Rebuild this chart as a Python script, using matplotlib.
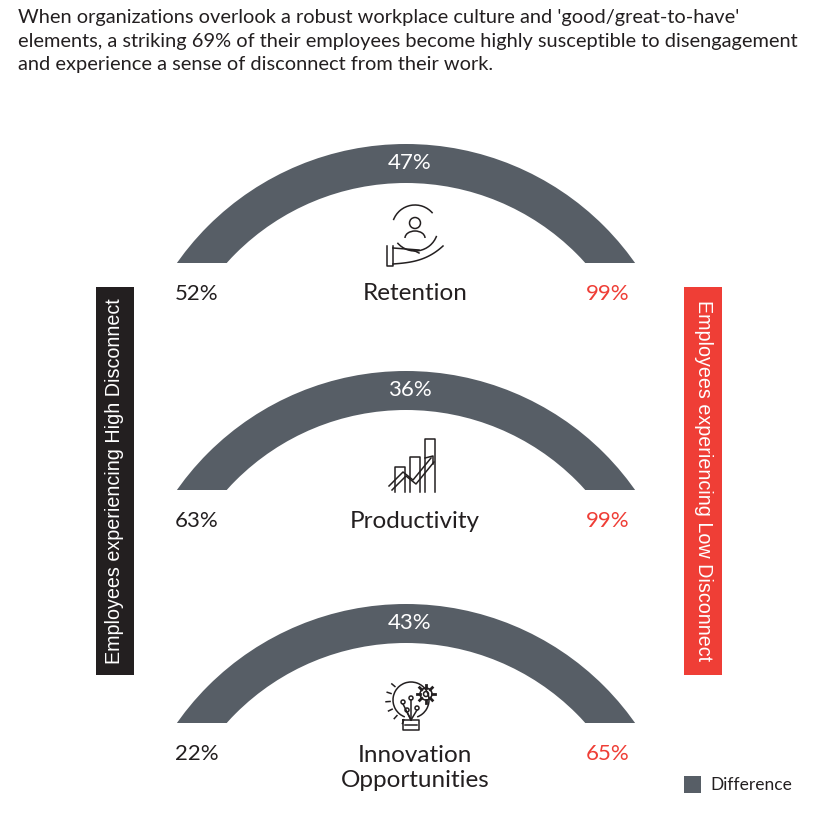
import numpy as np
import matplotlib
matplotlib.use("Agg")
import matplotlib.pyplot as plt
from matplotlib.patches import Wedge, Rectangle, Circle, Arc

title_lines = [
    "When organizations overlook a robust workplace culture and 'good/great-to-have'",
    "elements, a striking 69% of their employees become highly susceptible to disengagement",
    "and experience a sense of disconnect from their work.",
]
categories = ["Retention", "Productivity", "Innovation\nOpportunities"]
high_disconnect = [52, 63, 22]
low_disconnect = [99, 99, 65]
difference = [47, 36, 43]
left_label = "Employees experiencing High Disconnect"
right_label = "Employees experiencing Low Disconnect"
legend_label = "Difference"

GREY = "#575e66"
RED = "#ef3e36"
DARK = "#231f20"
FONT = "Lato"

fig = plt.figure(figsize=(8.26, 8.26), dpi=100)
ax = fig.add_axes([0, 0, 1, 1])
ax.set_xlim(0, 826)
ax.set_ylim(826, 0)
ax.axis("off")

for i, line in enumerate(title_lines):
    ax.text(18, 18 + 23.3 * i, line, fontsize=14.4, family=FONT, color=DARK,
            va="center", ha="left")

baselines = [263, 490, 723]
cx = 406
R, width = 280, 39
drop = 161


def icon_retention(x, y):
    kw = dict(color=DARK, lw=1.1)
    ax.add_patch(Circle((x, y - 13), 5.5, fill=False, **kw))
    ax.add_patch(Arc((x, y + 2), 20, 14, theta1=180, theta2=360, **kw))
    ax.add_patch(Arc((x, y - 8), 46, 46, theta1=200, theta2=320, **kw))
    ax.add_patch(Arc((x, y - 8), 46, 46, theta1=20, theta2=140, **kw))
    ax.plot([x - 28, x - 28, x - 22, x - 22], [y + 10, y + 30, y + 30, y + 10], **kw)
    t = np.linspace(0, 1, 30)
    ax.plot(x - 22 + 50 * t, y + 28 - 4 * t - 14 * t ** 3, **kw)
    ax.plot(x - 22 + 26 * t, y + 12 + 2 * t, **kw)
    ax.plot([x - 2, x + 4], [y + 14, y + 17], **kw)


def icon_productivity(x, y):
    kw = dict(color=DARK, lw=1.1)
    for dx, h in [(-20, 25), (-5, 35), (10, 53)]:
        ax.plot([x + dx, x + dx, x + dx + 10, x + dx + 10],
                [y + 24, y + 24 - h, y + 24 - h, y + 24], **kw)
    px = [x - 26, x - 12, x - 2, x + 16]
    py = [y + 18, y + 4, y + 12, y - 10]
    ax.plot(px, py, **kw)
    ax.plot([p + 3 for p in px], [p + 4 for p in py], **kw)
    ax.plot([x + 10, x + 18, x + 18], [y - 10, y - 12, y - 4], **kw)


def icon_innovation(x, y):
    kw = dict(color=DARK, lw=1.1)
    ax.add_patch(Arc((x - 4, y - 6), 36, 36, theta1=110, theta2=430, **kw))
    ax.plot([x - 12, x + 4, x + 4, x - 12, x - 12], [y + 14, y + 14, y + 24, y + 24, y + 14], **kw)
    ax.plot([x - 10, x + 2], [y + 19, y + 19], **kw)
    ax.add_patch(Circle((x + 11, y - 12), 6, fill=False, **kw))
    ax.add_patch(Circle((x + 11, y - 12), 2.5, fill=False, **kw))
    for a in np.linspace(0, 2 * np.pi, 8, endpoint=False):
        ax.plot([x + 11 + 6 * np.cos(a), x + 11 + 9 * np.cos(a)],
                [y - 12 + 6 * np.sin(a), y - 12 + 9 * np.sin(a)], color=DARK, lw=2)
    for a in np.linspace(140, 250, 6):
        r = np.radians(a)
        ax.plot([x - 4 + 21 * np.cos(r), x - 4 + 25 * np.cos(r)],
                [y - 6 - 21 * np.sin(r), y - 6 - 25 * np.sin(r)], **kw)
    for dx, dy in [(-12, -4), (-4, -8), (-8, 4), (2, 2)]:
        ax.add_patch(Circle((x + dx, y + dy), 2, fill=False, **kw))
        ax.plot([x + dx, x - 4], [y + dy + 2, y + 14], **kw)


icons = [icon_retention, icon_productivity, icon_innovation]
icon_centers = [(415, 236), (415, 468), (415, 706)]

for i, cat in enumerate(categories):
    base = baselines[i]
    cy = base + drop
    arc = Wedge((cx, cy), R, 180, 360, width=width, facecolor=GREY,
                edgecolor="none")
    ax.add_patch(arc)
    clip = Rectangle((cx - R - 5, cy - R - 5), 2 * R + 10, R + 5 - drop,
                     transform=ax.transData)
    arc.set_clip_path(clip)
    ax.text(cx + 4, cy - R + 19, f"{difference[i]}%", color="white", fontsize=16,
            family=FONT, ha="center", va="center")
    ax.text(197, base + 31, f"{high_disconnect[i]}%", color=DARK, fontsize=16,
            family=FONT, ha="center", va="center")
    ax.text(608, base + 31, f"{low_disconnect[i]}%", color=RED, fontsize=16,
            family=FONT, ha="center", va="center")
    ax.text(415, base + 31 if "\n" not in cat else base + 45, cat, color=DARK,
            fontsize=17.5, family=FONT, ha="center", va="center", linespacing=1.25)
    icons[i](*icon_centers[i])

ax.add_patch(Rectangle((96, 287), 38, 388, facecolor=DARK, edgecolor="none"))
ax.text(115, 481, left_label, rotation=90, color="white", fontsize=14.2,
        family="Liberation Sans", ha="center", va="center")
ax.add_patch(Rectangle((684, 287), 38, 388, facecolor=RED, edgecolor="none"))
ax.text(703, 481, right_label, rotation=270, color="white", fontsize=14.2,
        family="Liberation Sans", ha="center", va="center")

ax.add_patch(Rectangle((684, 776), 17, 17, facecolor=GREY, edgecolor="none"))
ax.text(710, 785, legend_label, color=DARK, fontsize=12.5, family=FONT,
        ha="left", va="center")

fig.savefig("out.png", dpi=100)
